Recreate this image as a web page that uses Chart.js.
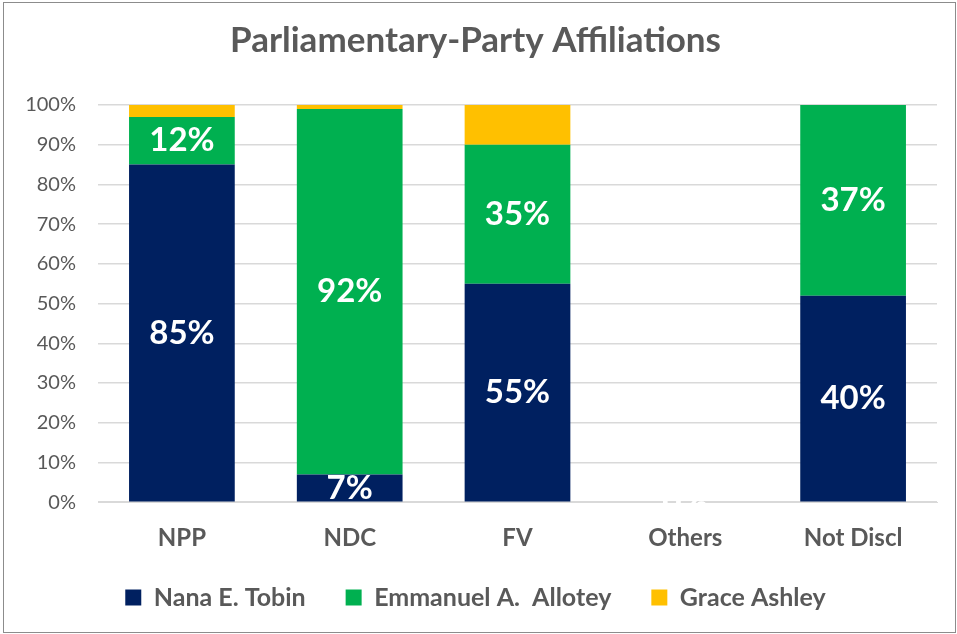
<!DOCTYPE html>
<html>
<head>
<meta charset="utf-8">
<script src="https://cdn.jsdelivr.net/npm/chart.js@4.4.1/dist/chart.umd.min.js"></script>
<style>
  body { margin: 0; background: #fff; }
  #box { position: absolute; left: 3px; top: 2px; width: 951px; height: 629px; border: 1px solid #8c8c8c; }
  canvas { display: block; }
</style>
</head>
<body>
<div id="box"><canvas id="grafico" width="951" height="629"></canvas></div>
<script>
// Datos del gráfico (porcentajes)
var categorias = ['NPP', 'NDC', 'FV', 'Others', 'Not Discl'];
var tobin   = [85, 7, 55, 0, 40];
var allotey = [12, 92, 35, 0, 37];
var ashley  = [3, 1, 10, 0, 0];
var marcasY = [0, 10, 20, 30, 40, 50, 60, 70, 80, 90, 100];

var gris = '#595959';
var fuente = 'Lato, "Open Sans", sans-serif';

// Normaliza cada columna al 100% (gráfico de barras apiladas al 100%)
function aPorcentaje(serie, i) {
    var total = tobin[i] + allotey[i] + ashley[i];
    return total ? serie[i] / total * 100 : 0;
}
function porcentajes(serie) {
    return categorias.map(function (c, i) { return aPorcentaje(serie, i); });
}

// Etiquetas blancas dentro de las barras
var etiquetas = {
    id: 'etiquetas',
    afterLayout: function (chart) {
        // sube un poco la leyenda, más cerca del eje
        chart.legend.top -= 22;
        chart.legend.bottom -= 22;
    },
    afterDatasetsDraw: function (chart) {
        var ctx = chart.ctx;
        ctx.save();
        ctx.fillStyle = '#ffffff';
        ctx.font = 'bold 33px ' + fuente;
        ctx.textAlign = 'center';
        ctx.textBaseline = 'middle';
        [0, 1].forEach(function (d) {
            var meta = chart.getDatasetMeta(d);
            var crudos = chart.data.datasets[d].crudos;
            meta.data.forEach(function (barra, i) {
                var y = (barra.y + barra.base) / 2;
                ctx.fillText(crudos[i] + '%', barra.x, y);
            });
        });
        ctx.restore();
    }
};

var ctx = document.getElementById('grafico').getContext('2d');
var grafico = new Chart(ctx, {
    type: 'bar',
    data: {
        labels: categorias,
        datasets: [
            { label: 'Nana E. Tobin', data: porcentajes(tobin), crudos: tobin, backgroundColor: '#002060' },
            { label: 'Emmanuel A.  Allotey', data: porcentajes(allotey), crudos: allotey, backgroundColor: '#00B050' },
            { label: 'Grace Ashley', data: porcentajes(ashley), crudos: ashley, backgroundColor: '#FFC000' }
        ]
    },
    options: {
        responsive: false,
        animation: false,
        layout: { padding: { left: 10, right: 18, top: 0, bottom: -10 } },
        datasets: { bar: { categoryPercentage: 1, barPercentage: 0.63 } },
        scales: {
            x: {
                stacked: true,
                grid: { display: false },
                border: { color: '#d9d9d9' },
                ticks: { color: gris, font: { family: fuente, size: 24, weight: 'bold' }, padding: 14 }
            },
            y: {
                stacked: true,
                min: 0,
                max: 100,
                afterBuildTicks: function (eje) {
                    eje.ticks = marcasY.map(function (v) { return { value: v }; });
                },
                afterFit: function (eje) { eje.width = 84; },
                grid: { color: '#d9d9d9', lineWidth: 1.5, drawTicks: false },
                border: { display: false },
                ticks: {
                    color: gris,
                    padding: 22,
                    font: { family: fuente, size: 20 },
                    callback: function (v) { return v + '%'; }
                }
            }
        },
        plugins: {
            title: {
                display: true,
                text: 'Parliamentary-Party Affiliations',
                color: gris,
                font: { family: fuente, size: 35, weight: 'bold' },
                padding: { top: 17, bottom: 43 }
            },
            legend: {
                position: 'bottom',
                labels: {
                    color: gris,
                    boxWidth: 16,
                    boxHeight: 16,
                    padding: 40,
                    font: { family: fuente, size: 25, weight: 'bold' }
                }
            },
            tooltip: { enabled: false }
        }
    },
    plugins: [etiquetas]
});
</script>
</body>
</html>
